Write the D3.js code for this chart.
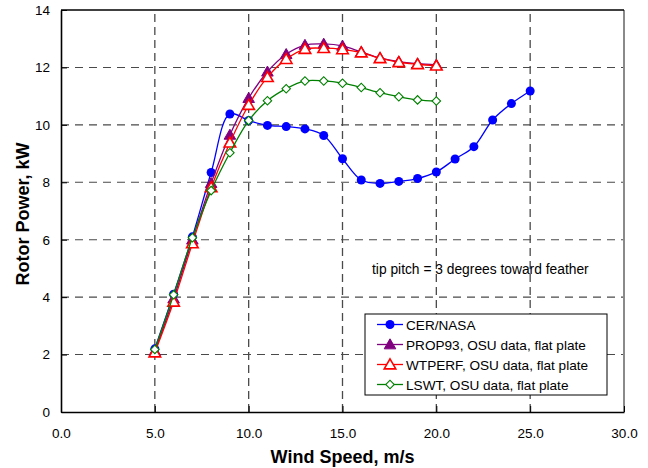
<!DOCTYPE html>
<html>
<head>
<meta charset="utf-8">
<script src="https://cdn.jsdelivr.net/npm/d3@7"></script>
<style>
  body { margin: 0; background: #fff; }
  text { font-family: Arial, "Liberation Sans", sans-serif; }
</style>
</head>
<body>
<div id="chart"></div>
<script>
// wind speeds, m/s
const cerSpeed = [5, 6, 7, 8, 9, 10, 11, 12, 13, 14, 15, 16, 17, 18, 19, 20, 21, 22, 23, 24, 25];
const cerPower = [2.2, 4.1, 6.1, 8.34, 10.38, 10.15, 9.98, 9.94, 9.86, 9.63, 8.82, 8.08, 7.96, 8.03, 8.13, 8.36, 8.81, 9.24, 10.17, 10.74, 11.18];

const osuSpeed = [5, 6, 7, 8, 9, 10, 11, 12, 13, 14, 15, 16, 17, 18, 19, 20];
const prop93Power = [2.12, 3.95, 6.0, 7.97, 9.65, 10.93, 11.85, 12.46, 12.78, 12.82, 12.75, 12.54, 12.33, 12.2, 12.13, 12.09];
const wtperfPower = [2.07, 3.84, 5.87, 7.82, 9.38, 10.69, 11.66, 12.29, 12.64, 12.67, 12.63, 12.52, 12.32, 12.18, 12.11, 12.06];
const lswtPower = [2.18, 4.08, 6.07, 7.71, 9.03, 10.15, 10.84, 11.26, 11.53, 11.53, 11.45, 11.3, 11.12, 10.98, 10.87, 10.83];

const xTicks = [0, 5, 10, 15, 20, 25, 30];
const yTicks = [0, 2, 4, 6, 8, 10, 12, 14];

const seriesNames = ["CER/NASA", "PROP93, OSU data, flat plate", "WTPERF, OSU data, flat plate", "LSWT, OSU data, flat plate"];

const width = 648, height = 468;
const margin = { top: 10, right: 24, bottom: 56, left: 61 };

const svg = d3.select('#chart')
  .append('svg')
  .attr('width', width)
  .attr('height', height);

const x = d3.scaleLinear().domain([0, 30]).range([margin.left, width - margin.right]);
const y = d3.scaleLinear().domain([0, 14]).range([height - margin.bottom, margin.top]);

// grid
svg.append('g')
  .selectAll('line')
  .data(xTicks.filter(d => d > 0 && d < 30))
  .enter().append('line')
  .attr('x1', d => x(d)).attr('x2', d => x(d))
  .attr('y1', y(0)).attr('y2', y(14))
  .attr('stroke', '#4a4a4a')
  .attr('stroke-width', 1.3)
  .attr('stroke-dasharray', '8,5');

svg.append('g')
  .selectAll('line')
  .data(yTicks.filter(d => d > 0 && d < 14))
  .enter().append('line')
  .attr('x1', x(0)).attr('x2', x(30))
  .attr('y1', d => y(d)).attr('y2', d => y(d))
  .attr('stroke', '#4a4a4a')
  .attr('stroke-width', 1.1)
  .attr('stroke-dasharray', '8,6');

// frame
svg.append('line')
  .attr('x1', x(30)).attr('x2', x(30)).attr('y1', y(0)).attr('y2', y(14))
  .attr('stroke', '#8a8a8a').attr('stroke-width', 2);
svg.append('line')
  .attr('x1', x(0)).attr('x2', x(30)).attr('y1', y(14)).attr('y2', y(14))
  .attr('stroke', '#000').attr('stroke-width', 1.5);

// axes
const xAxis = svg.append('g')
  .attr('transform', `translate(0,${y(0)})`)
  .call(d3.axisBottom(x).tickValues(xTicks).tickFormat(d3.format('.1f')).tickSizeInner(-6).tickSizeOuter(0).tickPadding(16));
const yAxis = svg.append('g')
  .attr('transform', `translate(${x(0)},0)`)
  .call(d3.axisLeft(y).tickValues(yTicks).tickSizeInner(-6).tickSizeOuter(0).tickPadding(11));

[xAxis, yAxis].forEach(a => {
  a.select('.domain').attr('stroke', '#000').attr('stroke-width', 1.6);
  a.selectAll('.tick line').attr('stroke', '#000');
  a.selectAll('.tick text')
    .style('font-family', 'Arial, "Liberation Sans", sans-serif')
    .style('font-size', '13.5px')
    .attr('fill', '#000');
});

// series
const line = d3.line()
  .x(d => x(d[0]))
  .y(d => y(d[1]))
  .curve(d3.curveCatmullRom.alpha(0.5));

const triangle = d3.symbol().type(d3.symbolTriangle).size(58);
const diamond = d3.symbol().type(d3.symbolSquare).size(36);

const series = [
  { name: seriesNames[0], color: '#0000ff', pts: d3.zip(cerSpeed, cerPower), marker: 'circle' },
  { name: seriesNames[1], color: '#800080', pts: d3.zip(osuSpeed, prop93Power), marker: 'triFilled' },
  { name: seriesNames[2], color: '#ff0000', pts: d3.zip(osuSpeed, wtperfPower), marker: 'triOpen' },
  { name: seriesNames[3], color: '#008000', pts: d3.zip(osuSpeed, lswtPower), marker: 'diamond' }
];

function drawMarker(g, type, color, cx, cy) {
  if (type === 'circle') {
    g.append('circle').attr('cx', cx).attr('cy', cy).attr('r', 4.5).attr('fill', color);
  } else if (type === 'triFilled') {
    g.append('path').attr('d', triangle()).attr('transform', `translate(${cx},${cy + 1})`)
      .attr('fill', color).attr('stroke', color).attr('stroke-width', 1);
  } else if (type === 'triOpen') {
    g.append('path').attr('d', triangle()).attr('transform', `translate(${cx},${cy + 1})`)
      .attr('fill', '#fff').attr('stroke', color).attr('stroke-width', 1.6);
  } else {
    g.append('path').attr('d', diamond()).attr('transform', `translate(${cx},${cy}) rotate(45)`)
      .attr('fill', '#fff').attr('stroke', color).attr('stroke-width', 1.1);
  }
}

series.forEach(s => {
  svg.append('path')
    .datum(s.pts)
    .attr('d', line)
    .attr('fill', 'none')
    .attr('stroke', s.color)
    .attr('stroke-width', 1.3);
  const g = svg.append('g');
  s.pts.forEach(p => drawMarker(g, s.marker, s.color, x(p[0]), y(p[1])));
});

// annotation
svg.append('text')
  .attr('x', 372)
  .attr('y', 274)
  .style('font-size', '13.8px')
  .text('tip pitch = 3 degrees toward feather');

// legend
const legend = svg.append('g').attr('transform', 'translate(365,314)');
legend.append('rect')
  .attr('width', 242).attr('height', 81)
  .attr('fill', '#fff').attr('stroke', '#000').attr('stroke-width', 1);

series.forEach((s, i) => {
  const ly = 10.5 + i * 20;
  legend.append('line')
    .attr('x1', 12).attr('x2', 38).attr('y1', ly).attr('y2', ly)
    .attr('stroke', s.color).attr('stroke-width', 1.3);
  drawMarker(legend, s.marker, s.color, 25, ly);
  legend.append('text')
    .attr('x', 41).attr('y', ly + 5)
    .style('font-size', '13.6px')
    .text(s.name);
});

// axis titles
svg.append('text')
  .attr('x', (x(0) + x(30)) / 2)
  .attr('y', 463)
  .attr('text-anchor', 'middle')
  .style('font-size', '18px')
  .style('font-weight', 'bold')
  .text('Wind Speed, m/s');

svg.append('text')
  .attr('transform', `translate(29,${(y(0) + y(14)) / 2 + 3}) rotate(-90)`)
  .attr('text-anchor', 'middle')
  .style('font-size', '18px')
  .style('font-weight', 'bold')
  .text('Rotor Power, kW');
</script>
</body>
</html>
